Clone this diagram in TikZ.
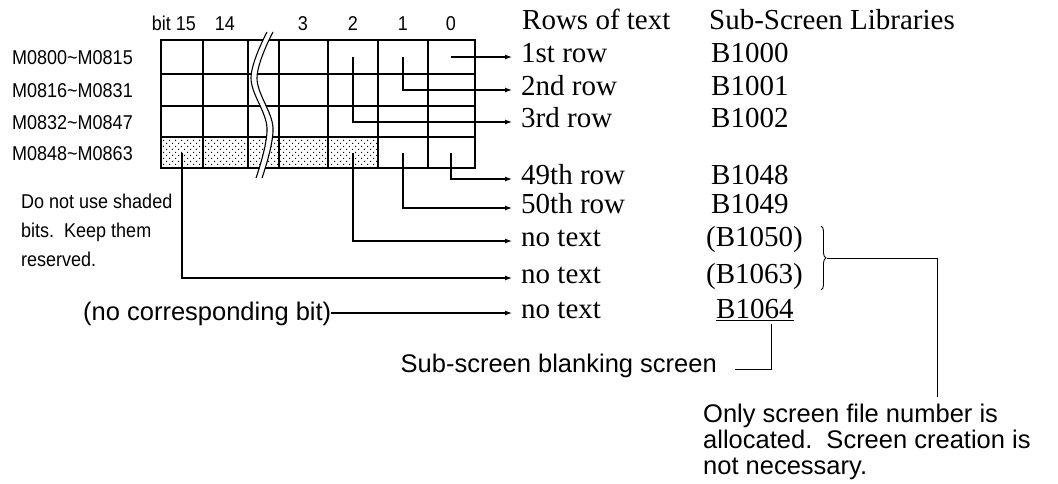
\documentclass[tikz,border=0pt]{standalone}
\usepackage{fontspec}
\setmainfont{Liberation Serif}
\setsansfont{Liberation Sans}
\newfontfamily\bitface[FakeStretch=0.9]{Liberation Sans}
\usetikzlibrary{arrows.meta,calc,decorations.pathreplacing,patterns}

\newcommand{\bitfont}{\bitface\fontsize{20}{29}\selectfont}
\newcommand{\rowfont}{\rmfamily\fontsize{29}{33}\selectfont}
\newcommand{\notefont}{\sffamily\fontsize{25.5}{26}\selectfont}

\pgfdeclarepatternformonly{bitdots}{\pgfqpoint{-1pt}{-1pt}}{\pgfqpoint{7pt}{7pt}}{\pgfqpoint{6pt}{6pt}}{%
  \pgfpathrectangle{\pgfqpoint{1pt}{1pt}}{\pgfqpoint{1.1pt}{1.1pt}}%
  \pgfpathrectangle{\pgfqpoint{4pt}{4pt}}{\pgfqpoint{1.1pt}{1.1pt}}%
  \pgfusepath{fill}}

\begin{document}
\begin{tikzpicture}[x=1pt, y=-1pt,
  bitlbl/.style={font=\bitfont, inner sep=0pt, anchor=base},
  memlbl/.style={font=\bitfont, inner sep=0pt, anchor=west},
  rowtxt/.style={font=\rowfont, anchor=west, inner xsep=9pt, inner ysep=0pt, text height=11pt, text depth=0pt},
  libtxt/.style={rowtxt, inner xsep=0pt},
  note/.style={font=\notefont, inner sep=0pt, align=left},
  arr/.style={-{Latex[length=7pt,width=5pt]}, line width=1.2pt},
  lead/.style={line width=0.9pt},
  cell/.style={line width=1.4pt}
]
\useasboundingbox (0,0) rectangle (1058,484);

% Bit grid, shaded bits first
\fill[pattern=bitdots] (161,137) rectangle (378,168);
\draw[cell] (161,40) rectangle (475,168);
\foreach \x in {203,248,279,328,378,428}
  \draw[cell] (\x,40) -- (\x,168);
\foreach \y in {74,106,137}
  \draw[cell] (161,\y) -- (475,\y);

% Break between bit 14 and bit 3
\draw[white, line width=5pt] plot[smooth, tension=0.6] coordinates {(270,32) (254,78) (270,128) (259,178)};
\foreach \s in {-3,3}
  \draw[line width=1.1pt, xshift=\s pt] plot[smooth, tension=0.6] coordinates {(270,32) (254,78) (270,128) (259,178)};

% Bit numbers
\node[bitlbl, anchor=base east] (h15) at (196,31) {bit 15};
\foreach \x/\t/\n in {225/14/h14, 303/3/h3, 353/2/h2, 403/1/h1, 451/0/h0}
  \node[bitlbl] (\n) at (\x,31) {\t};

% Relay ranges
\node[memlbl] (m1) at (12,58) {M0800\textasciitilde M0815};
\node[memlbl] (m2) at (12,91) {M0816\textasciitilde M0831};
\node[memlbl] (m3) at (12,123) {M0832\textasciitilde M0847};
\node[memlbl] (m4) at (12,154) {M0848\textasciitilde M0863};

\node[font=\bitfont, inner sep=0pt, align=left, anchor=base west] (shade) at (21,266)
  {Do not use shaded\\bits.\ \ Keep them\\reserved.};

% Start points in the bit cells
\coordinate (b0r1) at (451,57);
\coordinate (b1r1) at (403,57);
\coordinate (b2r1) at (353,57);
\coordinate (b0r4) at (451,153);
\coordinate (b1r4) at (403,153);
\coordinate (b2r4) at (353,153);
\coordinate (b15r4) at (182,153);

% Rows of text
\node[libtxt] (hrow) at (522,24.5) {Rows of text};
\node[rowtxt] (t1) at (512,57) {1st row};
\node[rowtxt] (t2) at (512,90) {2nd row};
\node[rowtxt] (t3) at (512,122) {3rd row};
\node[rowtxt] (t49) at (512,179) {49th row};
\node[rowtxt] (t50) at (512,208) {50th row};
\node[rowtxt] (tn1) at (512,241) {no text};
\node[rowtxt] (tn2) at (512,278) {no text};
\node[rowtxt] (tn3) at (512,313) {no text};

% Sub-screen libraries
\node[libtxt] (hlib) at (709,24.5) {Sub-Screen Libraries};
\node[libtxt] (l0) at (711,57) {B1000};
\node[libtxt] (l1) at (711,90) {B1001};
\node[libtxt] (l2) at (711,122) {B1002};
\node[libtxt] (l48) at (711,179) {B1048};
\node[libtxt] (l49) at (711,208) {B1049};
\node[libtxt] (l50) at (706,241) {(B1050)};
\node[libtxt] (l63) at (706,278) {(B1063)};
\node[libtxt] (l64) at (716,313) {\underline{B1064}};

\node[font=\notefont, inner sep=0pt, anchor=base west] (nocb) at (83,320) {(no corresponding bit)};
\node[font=\notefont, inner sep=0pt, anchor=base east] (blank) at (717,372) {Sub-screen blanking screen};
\node[note, anchor=north west] (only) at (703,404)
  {Only screen file number is\\allocated.\ \ Screen creation is\\not necessary.};

% Connectors
\draw[arr] (b0r1) -- (t1.west);
\draw[arr] (b1r1) |- (t2.west);
\draw[arr] (b2r1) |- (t3.west);
\draw[arr] (b0r4) |- (t49.west);
\draw[arr] (b1r4) |- (t50.west);
\draw[arr] (b2r4) |- (tn1.west);
\draw[arr] (b15r4) |- (tn2.west);
\draw[arr] (nocb.east |- tn3.west) -- (tn3.west);

% Brace and leaders
\draw[lead, decorate, decoration={brace, amplitude=5pt}] (821,226) -- (821,290);
\coordinate (bracetip) at (827,258);
\coordinate (onlytop) at ($(only.north west)+(234,-7)$);
\draw[lead] (bracetip) -| (onlytop);
\coordinate (ulmark) at ($(l64.west)+(55,11)$);
\draw[lead] (ulmark) |- ($(blank.base east)+(18,-3)$);
\end{tikzpicture}
\end{document}
